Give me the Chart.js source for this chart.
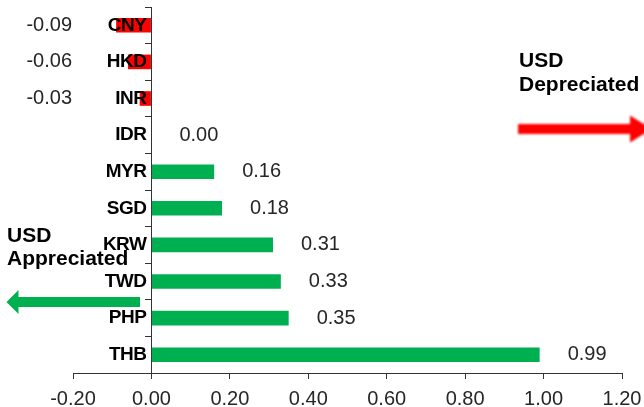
<!DOCTYPE html>
<html>
<head>
<meta charset="utf-8">
<script src="https://cdn.jsdelivr.net/npm/chart.js@4/dist/chart.umd.min.js"></script>
<style>
  html, body { margin: 0; padding: 0; background: #fff; }
  canvas { display: block; }
</style>
</head>
<body>
<canvas id="fx" width="644" height="407"></canvas>
<script>
// Asian currencies vs USD, change over the period
const currencies = ['CNY', 'HKD', 'INR', 'IDR', 'MYR', 'SGD', 'KRW', 'TWD', 'PHP', 'THB'];
const changes = [-0.09, -0.06, -0.03, 0.00, 0.16, 0.18, 0.31, 0.33, 0.35, 0.99];
const axisTicks = [-0.20, 0.00, 0.20, 0.40, 0.60, 0.80, 1.00, 1.20];

const RED = '#FF0000';
const GREEN = '#00B050';
const FONT = '"Liberation Sans", Arial, sans-serif';

function arrow(ctx, tailX, tipX, cy, shaft, headLen, headH, color) {
  const dir = Math.sign(tipX - tailX);
  const baseX = tipX - dir * headLen;
  ctx.beginPath();
  ctx.moveTo(tailX, cy - shaft / 2);
  ctx.lineTo(baseX, cy - shaft / 2);
  ctx.lineTo(baseX, cy - headH / 2);
  ctx.lineTo(tipX, cy);
  ctx.lineTo(baseX, cy + headH / 2);
  ctx.lineTo(baseX, cy + shaft / 2);
  ctx.lineTo(tailX, cy + shaft / 2);
  ctx.closePath();
  ctx.fillStyle = color;
  ctx.fill();
}

const labelsAndNotes = {
  id: 'labelsAndNotes',
  afterDatasetsDraw(chart) {
    const { ctx, scales: { x, y } } = chart;
    const zero = x.getPixelForValue(0);
    ctx.save();

    // currency names sit just left of the zero line, over the bars
    ctx.font = 'bold 19px ' + FONT;
    ctx.letterSpacing = '-0.5px';
    ctx.fillStyle = '#000';
    ctx.textAlign = 'right';
    ctx.textBaseline = 'middle';
    currencies.forEach((c, i) => ctx.fillText(c, zero - 5, y.getPixelForValue(i)));
    ctx.letterSpacing = '0px';

    // value labels
    ctx.font = '20px ' + FONT;
    ctx.fillStyle = '#262626';
    changes.forEach((v, i) => {
      const yy = y.getPixelForValue(i);
      if (v < 0) {
        ctx.textAlign = 'right';
        ctx.fillText(v.toFixed(2), x.left - 1, yy);
      } else {
        ctx.textAlign = 'left';
        ctx.fillText(v.toFixed(2), x.getPixelForValue(v) + 28, yy);
      }
    });

    // direction notes
    ctx.font = 'bold 21px ' + FONT;
    ctx.fillStyle = '#000';
    ctx.textAlign = 'left';
    ctx.textBaseline = 'alphabetic';
    ctx.fillText('USD', 519, 67);
    ctx.fillText('Depreciated', 519, 91);
    ctx.fillText('USD', 7, 242);
    ctx.fillText('Appreciated', 7, 265);

    ctx.filter = 'blur(0.8px)';
    arrow(ctx, 518, 652, 129, 10, 22, 27, RED);
    ctx.filter = 'blur(0.4px)';
    arrow(ctx, 140, 6.5, 302, 10, 12, 24, GREEN);
    ctx.restore();
  }
};

new Chart(document.getElementById('fx'), {
  type: 'bar',
  data: {
    labels: currencies,
    datasets: [{
      data: changes,
      backgroundColor: changes.map(v => (v < 0 ? RED : GREEN)),
      borderWidth: 0,
      barPercentage: 0.4,
      categoryPercentage: 1
    }]
  },
  options: {
    indexAxis: 'y',
    responsive: false,
    animation: false,
    layout: { padding: { left: 73, right: 22, top: 7, bottom: 0 } },
    plugins: { legend: { display: false }, tooltip: { enabled: false } },
    scales: {
      x: {
        min: axisTicks[0],
        max: axisTicks[axisTicks.length - 1],
        afterBuildTicks: s => { s.ticks = axisTicks.map(v => ({ value: v })); },
        afterFit: s => { s.height = 34; s.paddingLeft = 0; s.paddingRight = 0; },
        grid: { drawOnChartArea: false, drawTicks: true, tickLength: 6, color: '#333' },
        border: { color: '#333', width: 1 },
        ticks: {
          autoSkip: false,
          maxRotation: 0,
          padding: 10,
          color: '#262626',
          font: { family: FONT, size: 20, lineHeight: 1 },
          callback: v => Number(v).toFixed(2)
        }
      },
      y: {
        position: { x: 0 },
        grid: { drawOnChartArea: false, drawTicks: true, tickLength: 6, color: '#333', offset: true },
        border: { color: '#333', width: 1 },
        ticks: { display: false }
      }
    }
  },
  plugins: [labelsAndNotes]
});
</script>
</body>
</html>
